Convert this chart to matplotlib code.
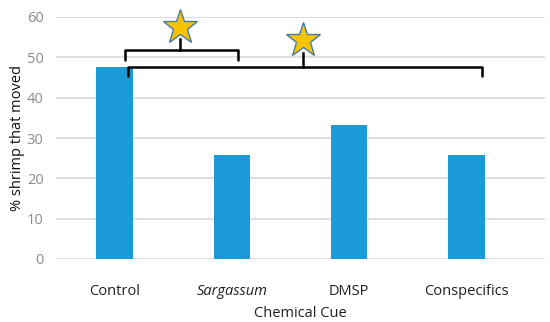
import numpy as np
import matplotlib
matplotlib.use("Agg")
import matplotlib.pyplot as plt

# chart values
cues = ["Control", "Sargassum", "DMSP", "Conspecifics"]
pct_moved = [47.7, 25.9, 33.1, 25.9]
yticks = [0, 10, 20, 30, 40, 50, 60]

plt.rcParams['font.family'] = ['Open Sans', 'DejaVu Sans']

fig = plt.figure(figsize=(5.5, 3.22), dpi=100)
ax = fig.add_axes([56/550, 1 - 259/322, (545 - 56)/550, (259 - 17)/322])

x = np.arange(len(cues))
ax.bar(x, pct_moved, width=0.31, color='#1a9ad7', zorder=3)

ax.set_ylim(0, 60)
ax.set_xlim(-0.5, 3.67)
ax.set_yticks(yticks)
ax.yaxis.grid(True, color='#d9d9d9', linewidth=1.2, zorder=0)
for s in ax.spines.values():
    s.set_visible(False)
ax.tick_params(axis='both', length=0)
ax.tick_params(axis='y', colors='#8c8c8c', labelsize=10.5, pad=9)
ax.tick_params(axis='x', colors='#202020', labelsize=10.5, pad=18)
ax.set_xticks(x)
ax.set_xticklabels(cues)
ax.get_xticklabels()[1].set_style('italic')

ax.set_xlabel("Chemical Cue", fontsize=10.5, color='#202020', labelpad=5)
ax.set_ylabel("% shrimp that moved", fontsize=10.5, color='#101010', labelpad=1)

# significance brackets
def bracket(x0, x1, xm, y, drop, top):
    ax.plot([x0, x0, x1, x1], [y - drop, y, y, y - drop], color='black',
            lw=1.8, solid_joinstyle='round', solid_capstyle='round', zorder=4, clip_on=False)
    ax.plot([xm, xm], [y, top], color='black', lw=1.8, zorder=4, clip_on=False)

bracket(0.085, 1.05, 0.56, 51.8, 2.4, 54.5)
bracket(0.11, 3.13, 1.61, 47.6, 2.2, 51.0)

ax.plot([0.56], [57.4], marker='*', markersize=26, color='#f7c200',
        markeredgecolor='#4a7ca8', markeredgewidth=1.0, zorder=5, clip_on=False)
ax.plot([1.61], [54.2], marker='*', markersize=26, color='#f7c200',
        markeredgecolor='#4a7ca8', markeredgewidth=1.0, zorder=5, clip_on=False)

plt.savefig("out.png", dpi=100)
